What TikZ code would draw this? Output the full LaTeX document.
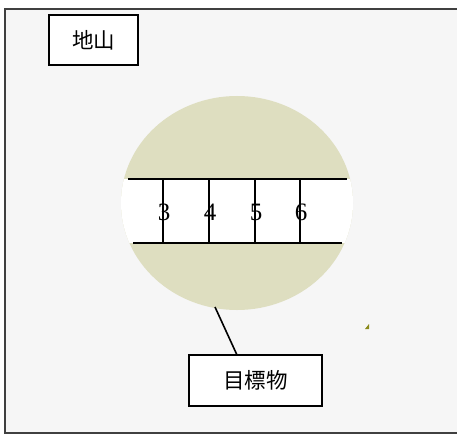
\documentclass[tikz,border=0pt]{standalone}
\usepackage{fontspec}
\newfontfamily\cjk{Noto Sans CJK SC}
\newfontfamily\numf{Liberation Serif}
\definecolor{bgc}{HTML}{F6F6F6}
\definecolor{tan}{HTML}{DEDEC0}
\definecolor{olv}{HTML}{8A8A1A}
\begin{document}
\begin{tikzpicture}[x=1pt,y=-1pt,
  lbox/.style={draw=black,line width=1.6pt,fill=white,inner sep=0pt,font=\cjk\fontsize{21.5}{23}\selectfont},
  band/.style={line width=1.6pt,black},
  tick/.style={line width=1.3pt,black},
  num/.style={font=\numf\fontsize{25}{26}\selectfont,inner sep=0pt}]
\useasboundingbox (0,0) rectangle (457,433);
\begin{scope}
\clip (0,0) rectangle (457,433);
\draw[fill=bgc,draw=black!75,line width=1.2pt] (5,9) rectangle (470,433);
\end{scope}
% target sphere
\fill[tan] (237,203) ellipse [x radius=116, y radius=107];
\begin{scope}
\clip (237,203) ellipse [x radius=116, y radius=107];
\fill[white] (100,179) rectangle (380,243);
\end{scope}
\coordinate (tl) at (128,179); \coordinate (tr) at (347,179);
\coordinate (bl) at (133,243); \coordinate (br) at (342,243);
\draw[band] (tl) -- (tr);
\draw[band] (bl) -- (br);
\foreach \x/\n [count=\i] in {163/3,209/4,255/5,300/6}{
  \coordinate (t\i) at (\x,179); \coordinate (b\i) at (\x,243);
  \draw[tick] (t\i) -- (b\i);
  \node[num] (n\i) at (\x+1,212) {\n};
}
% small olive mark
\fill[olv] (365,329) -- (369,329) -- (369,324) -- cycle;
% labels
\node[lbox,minimum width=89pt,minimum height=50pt] (dishan) at (93.5,40) {地山};
\node[lbox,minimum width=133pt,minimum height=51pt] (mubiao) at (255.5,380.5) {目標物};
\coordinate (p) at (215,307);
\coordinate (q) at (237,355);
\draw[line width=1.6pt] (p) -- (q);
\end{tikzpicture}
\end{document}
